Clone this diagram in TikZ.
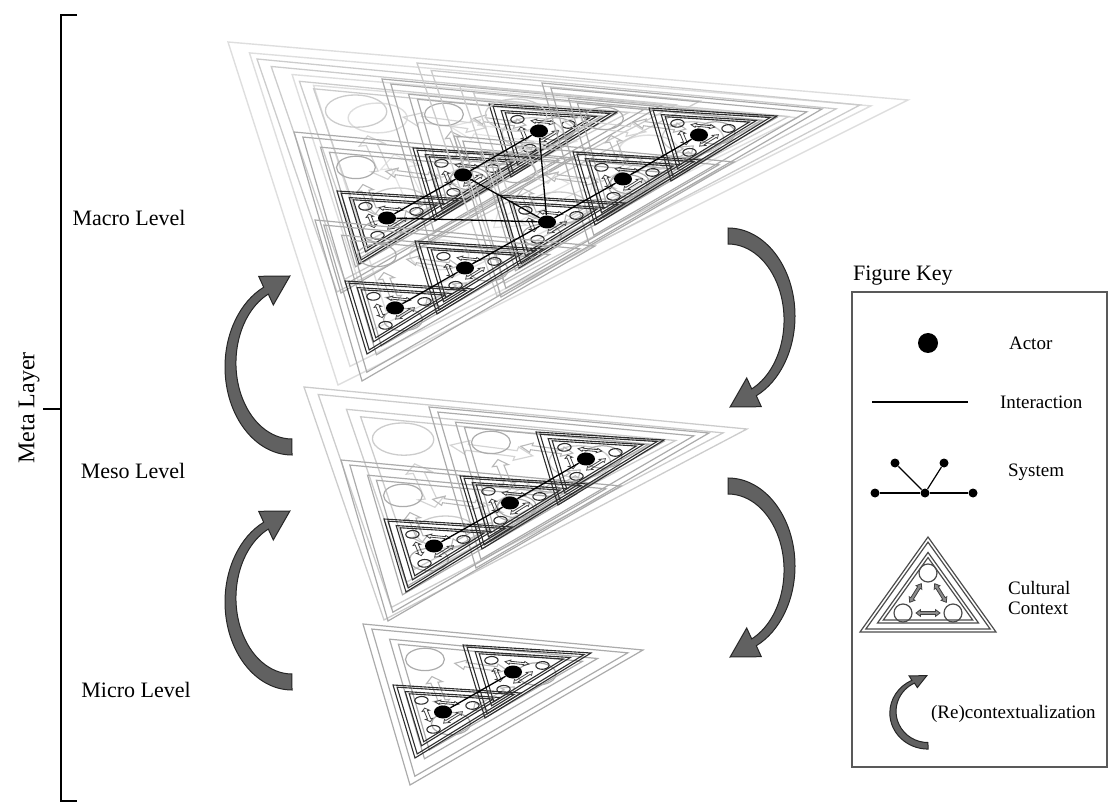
\documentclass[tikz,border=0pt]{standalone}
\usepackage{fontspec}
\setmainfont{Liberation Serif}
\usetikzlibrary{shapes.geometric}

\tikzset{
  ctx radius/.store in=\ctxr, ctx radius=8,
  ctx line/.style={draw=black!75, line width=0.5pt},
  ctx arrow/.style={draw=black!70, line width=0.4pt},
  ctx huge/.style={ctx radius=5, ctx line/.style={draw=black!13, line width=0.7pt}, ctx arrow/.style={draw=black!11, line width=0.6pt}},
  ctx big/.style={ctx line/.style={draw=black!20, line width=0.65pt}, ctx arrow/.style={draw=black!17, line width=0.6pt}},
  ctx mid/.style={ctx line/.style={draw=black!33, line width=0.6pt}, ctx arrow/.style={draw=black!28, line width=0.55pt}},
  ctx dark/.style={ctx radius=6, ctx line/.style={draw=black!82, line width=0.55pt}, ctx arrow/.style={draw=black!75, line width=0.4pt}},
  actor/.style={ellipse, fill=black, inner sep=0pt, minimum width=9pt, minimum height=6.5pt},
  sysdot/.style={circle, fill=black, inner sep=0pt, minimum size=4.5pt},
  interaction/.style={line width=0.65pt},
  bend arrow/.style={fill=black!62, draw=black!85, line width=0.5pt},
  level/.style={font=\fontsize{11}{13}\selectfont},
  keylabel/.style={font=\fontsize{9.5}{10}\selectfont, anchor=west, align=left},
}

% one cultural context: two triangles (double lined), three circles, three arrows
\newcommand\ctxshape{%
  \foreach \s in {1,0.914,0.743,0.657}
    \draw[ctx line] (0,{60-60*\s}) -- ({68*\s},{60+35*\s}) -- ({-68*\s},{60+35*\s}) -- cycle;
  \foreach \cx/\cy in {0/36,-25/76,25/76}
    \draw[ctx line] (\cx,\cy) circle[radius=\ctxr];
  \foreach \ax/\ay/\ang/\len in {12.5/56/58/11,-12.5/56/122/11,0/76/0/12}
    \draw[ctx arrow, shift={(\ax,\ay)}, rotate=\ang]
      (-\len,0) -- ({4.5-\len},3.4) -- ({4.5-\len},1.5) -- ({\len-4.5},1.5) -- ({\len-4.5},3.4) -- (\len,0)
      -- ({\len-4.5},-3.4) -- ({\len-4.5},-1.5) -- ({4.5-\len},-1.5) -- ({4.5-\len},-3.4) -- cycle;
}

% context squeezed onto the corners T, R, B
\newcommand\ctx[7]{%
  \pgfmathsetmacro\ca{((#3)-(#5))/136}%
  \pgfmathsetmacro\cb{((#4)-(#6))/136}%
  \pgfmathsetmacro\cc{((#3)+(#5)-2*(#1))/190}%
  \pgfmathsetmacro\cd{((#4)+(#6)-2*(#2))/190}%
  \begin{scope}[cm={\ca,\cb,\cc,\cd,(#1,#2)}, #7]
    \ctxshape
  \end{scope}}

\newcommand\bigctx[2]{\ctx{#1}{#2}{#1+443}{#2+42}{#1+80}{#2+233}{ctx big}}
\newcommand\midctx[2]{\ctx{#1}{#2}{#1+280}{#2+26}{#1+47}{#2+161}{ctx mid}}
\newcommand\darkctx[3]{%
  \ctx{#2}{#3}{#2+128}{#3+8}{#2+22}{#3+73}{ctx dark}%
  \coordinate (#1-at) at ({#2+50},{#3+27});}

\newcommand\microgroup[3]{%
  \midctx{#2-30}{#3-61}
  \darkctx{#1a}{#2}{#3}
  \darkctx{#1b}{#2+70}{#3-40}}
\newcommand\mesogroup[3]{%
  \bigctx{#2-80}{#3-132}
  \midctx{#2-43}{#3-59}
  \midctx{#2+45}{#3-112}
  \darkctx{#1a}{#2}{#3}
  \darkctx{#1b}{#2+76}{#3-43}
  \darkctx{#1c}{#2+152}{#3-87}}

% curved (re)contextualization arrow, drawn y-up around (0,0)
\newcommand\bendarrow[1]{%
  \begin{scope}[#1, yscale=-1]
    \draw[bend arrow] (0,-88) arc[start angle=270, end angle=115, x radius=67, y radius=88]
      -- (-33.3,90.7) -- (-2.1,91) -- (-18.7,62) -- (-23.7,72.9)
      arc[start angle=115, end angle=270, x radius=56, y radius=76] -- cycle;
  \end{scope}}

\begin{document}
\begin{tikzpicture}[x=0.5pt, y=0.5pt, yscale=-1]
  \useasboundingbox (0,0) rectangle (1108,807);

  % levels
  \ctx{228}{42}{908}{100}{338}{385}{ctx huge}
  \mesogroup{ma}{337}{191}
  \mesogroup{mb}{497}{195}
  \microgroup{mc}{345}{281}
  \mesogroup{me}{384}{519}
  \microgroup{mi}{393}{685}

  \foreach \n in {maa,mab,mac,mba,mbb,mbc,mca,mcb,mea,meb,mec,mia,mib}
    \node[actor] (\n) at (\n-at) {};

  % interactions
  \draw[interaction] (maa) -- (mab) -- (mac);
  \draw[interaction] (mba) -- (mbb) -- (mbc);
  \draw[interaction] (mca) -- (mcb);
  \draw[interaction] (mba) -- (maa);
  \draw[interaction] (mba) -- (mab);
  \draw[interaction] (mba) -- (mac);
  \draw[interaction] (mba) -- (mcb);
  \draw[interaction] (mea) -- (meb) -- (mec);
  \draw[interaction] (mia) -- (mib);

  \bendarrow{shift={(292,367)}}
  \bendarrow{shift={(292,602)}}
  \bendarrow{shift={(728,316)}, rotate=180}
  \bendarrow{shift={(728,566)}, rotate=180}

  % brace and labels
  \draw[line width=1pt] (77,15) -- (61,15) -- (61,801) -- (77,801);
  \draw[line width=1pt] (61,409) -- (43,409);
  \node[rotate=90, font=\fontsize{12}{14}\selectfont] (meta) at (29,408) {Meta Layer};
  \node[level] (macro) at (129,218) {Macro Level};
  \node[level] (meso) at (133,471) {Meso Level};
  \node[level] (micro) at (136,690) {Micro Level};

  % figure key
  \node[anchor=west, font=\fontsize{11}{13}\selectfont] (keytitle) at (846,276) {Figure Key};
  \draw[black!65, line width=0.8pt] (852,292) rectangle (1107,767);

  \node[actor, minimum width=10pt, minimum height=10pt] (keyactor) at (928,343) {};
  \node[keylabel] (keyactortxt) at (1002,343) {Actor};

  \coordinate (ia) at (872,402);
  \coordinate (ib) at (968,402);
  \draw[line width=1.4pt] (ia) -- (ib);
  \node[keylabel] (keyinttxt) at (993,402) {Interaction};

  \node[sysdot] (s1) at (875,493) {};
  \node[sysdot] (s2) at (925,493) {};
  \node[sysdot] (s3) at (973,493) {};
  \node[sysdot] (s4) at (895,463) {};
  \node[sysdot] (s5) at (944,463) {};
  \draw[line width=0.6pt] (s1) -- (s2) -- (s3);
  \draw[line width=0.6pt] (s4) -- (s2) -- (s5);
  \node[keylabel] (keysystxt) at (1001,472) {System};

  \begin{scope}[shift={(928,537)}, ctx radius=9,
      ctx line/.style={draw=black!70, line width=0.6pt},
      ctx arrow/.style={draw=black!75, fill=black!45, line width=0.4pt}]
    \ctxshape
  \end{scope}
  \node[keylabel] (keyctxtxt) at (1001,598) {Cultural\\Context};

  \bendarrow{shift={(928,713)}, xscale=0.57, yscale=0.41}
  \node[keylabel] (keybendtxt) at (924,714) {(Re)contextualization};
\end{tikzpicture}
\end{document}
